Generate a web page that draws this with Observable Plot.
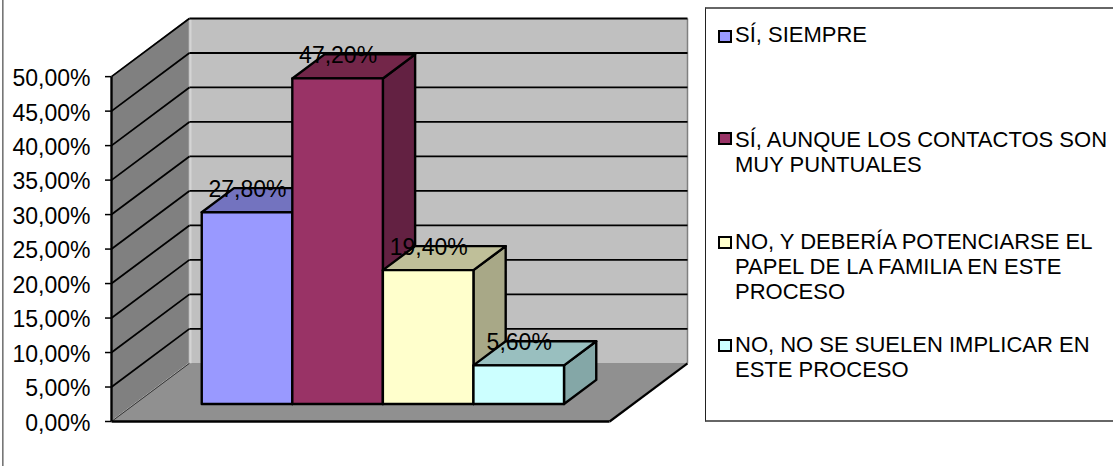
<!DOCTYPE html>
<html lang="es">
<head>
<meta charset="utf-8">
<script src="https://cdn.jsdelivr.net/npm/d3@7"></script>
<script src="https://cdn.jsdelivr.net/npm/@observablehq/plot@0.6"></script>
<style>
  html, body { margin: 0; padding: 0; background: #fff; }
  #chart { position: relative; width: 1113px; height: 466px; overflow: hidden; font-family: "Liberation Sans", Arial, sans-serif; color: #000; }
  #chart svg { position: absolute; left: 0; top: 0; }
  #edge { position: absolute; left: 2px; top: 0; bottom: 0; width: 1px; background: #777; border-right: 1px solid #aaa; }
  #legend { position: absolute; left: 705px; top: 7px; width: 420px; height: 415px; box-sizing: border-box; border: 1px solid #222; border-bottom: 2px solid #666; border-top: 2px solid #666; }
  .swatch { position: absolute; left: 12px; width: 14px; height: 13px; box-sizing: border-box; border: 2px solid #000; }
  .line { position: absolute; left: 29px; font-size: 22px; line-height: 24px; white-space: nowrap; }
</style>
</head>
<body>
<div id="chart">
  <div id="edge"></div>
  <div id="legend"></div>
</div>
<script>
// Survey responses, in percent
const categories = [
  ["SÍ, SIEMPRE"],
  ["SÍ, AUNQUE LOS CONTACTOS SON", "MUY PUNTUALES"],
  ["NO, Y DEBERÍA POTENCIARSE EL", "PAPEL DE LA FAMILIA EN ESTE", "PROCESO"],
  ["NO, NO SE SUELEN IMPLICAR EN", "ESTE PROCESO"]
];
const values = [27.8, 47.2, 19.4, 5.6];
const yTicks = d3.range(0, 51, 5);

// Face colours per series: front, top, side
const frontColors = ["#9999ff", "#993366", "#ffffcc", "#ccffff"];
const topColors = ["#7373bf", "#732649", "#bfbf99", "#99bfbf"];
const sideColors = ["#6565a9", "#632142", "#a8a887", "#84a7a7"];

// Oblique projection: one unit of depth shifts a point in x (category units) and y (percent)
const depthX = 0.86;
const depthY = 8.43;
const gap = 0.75;
const barDepth = [0.293, 0.707];
const categoryCount = values.length;
const floorWidth = categoryCount + 2 * gap;
const yMax = 50;

const project = (u, v, d) => ({x: u + depthX * d, y: v + depthY * d});

// A quadrilateral a-b-c-d becomes two rows of a ribbon-shaped area
function quad(id, fill, a, b, c, d) {
  return [
    {id, fill, x1: a.x, y1: a.y, x2: d.x, y2: d.y},
    {id, fill, x1: b.x, y1: b.y, x2: c.x, y2: c.y}
  ];
}

const walls = [
  ...quad("left", "#808080", project(0, 0, 0), project(0, yMax, 0), project(0, yMax, 1), project(0, 0, 1)),
  ...quad("back", "#c0c0c0", project(0, 0, 1), project(0, yMax, 1), project(floorWidth, yMax, 1), project(floorWidth, 0, 1)),
  ...quad("floor", "#909090", project(0, 0, 0), project(0, 0, 1), project(floorWidth, 0, 1), project(floorWidth, 0, 0))
];

const [df, db] = barDepth;
const barFaces = values.flatMap((v, i) => {
  const u0 = gap + i, u1 = u0 + 1;
  return [
    ...quad(`side${i}`, sideColors[i], project(u1, 0, df), project(u1, v, df), project(u1, v, db), project(u1, 0, db)),
    ...quad(`top${i}`, topColors[i], project(u0, v, df), project(u0, v, db), project(u1, v, db), project(u1, v, df)),
    ...quad(`front${i}`, frontColors[i], project(u0, 0, df), project(u0, v, df), project(u1, v, df), project(u1, 0, df))
  ];
});

const labels = values.map((v, i) => ({
  x: gap + i + 0.5 + depthX * df,
  y: v + depthY * db,
  text: v.toFixed(2).replace(".", ",") + "%"
}));

const gridValues = yTicks.filter((t) => t > 0);
const percent = (t) => t.toFixed(2).replace(".", ",") + "%";

const plot = Plot.plot({
  width: 1113,
  height: 466,
  marginLeft: 111,
  marginRight: 426,
  marginTop: 18,
  marginBottom: 45,
  style: {fontFamily: "Liberation Sans, Arial, sans-serif", background: "transparent", color: "#000"},
  x: {domain: [0, floorWidth + depthX], axis: null},
  y: {domain: [0, yMax + depthY], axis: null},
  color: {type: "identity"},
  marks: [
    Plot.area(walls, {x1: "x1", y1: "y1", x2: "x2", y2: "y2", z: "id", fill: "fill"}),
    // Soft edge where the back wall meets the left wall and the floor
    Plot.link([0], {x1: depthX + 0.012, x2: depthX + 0.012, y1: depthY, y2: yMax + depthY, stroke: "#d4d4d4", strokeWidth: 2}),
    Plot.link([0], {x1: floorWidth + depthX, x2: floorWidth + depthX, y1: depthY, y2: yMax + depthY, stroke: "#808080", strokeWidth: 1.5}),
    // Gridlines across both walls
    Plot.link(gridValues, {x1: 0, y1: (t) => t, x2: depthX, y2: (t) => t + depthY, stroke: "#000", strokeWidth: 1.8}),
    Plot.link(gridValues, {x1: depthX, y1: (t) => t + depthY, x2: floorWidth + depthX, y2: (t) => t + depthY, stroke: "#000", strokeWidth: 1.8}),
    // Thin edge between floor and left wall
    Plot.link([0], {x1: 0, y1: 0, x2: depthX, y2: depthY, stroke: "#333", strokeWidth: 1}),
    // Floor front and right edges
    Plot.link([0], {x1: 0, y1: 0, x2: floorWidth, y2: 0, stroke: "#000", strokeWidth: 2.4}),
    Plot.link([0], {x1: floorWidth, y1: 0, x2: floorWidth + depthX, y2: depthY, stroke: "#000", strokeWidth: 2.2}),
    // Tick marks and their labels are separate so the labels can sit a little lower
    Plot.axisY({ticks: yTicks, tickSize: 6, text: null, stroke: "#000", strokeWidth: 1.5}),
    Plot.axisY({ticks: yTicks, tickSize: 0, tickPadding: 21, tickFormat: percent, fontSize: 23, dy: 2}),
    Plot.link([0], {x1: 0, x2: 0, y1: 0, y2: yMax, stroke: "#000", strokeWidth: 2.4}),
    // Bars, drawn left to right so each one overlaps the previous
    Plot.area(barFaces, {x1: "x1", y1: "y1", x2: "x2", y2: "y2", z: "id", fill: "fill", stroke: "#000", strokeWidth: 2.4}),
    Plot.text(labels, {x: "x", y: "y", text: "text", fontSize: 23, fill: "#000", textAnchor: "middle", dy: 1})
  ]
});
document.getElementById("chart").prepend(plot);

// Legend box to the right of the plot
const legend = document.getElementById("legend");
const swatchTops = [21, 123, 227, 330];
const lineTops = [
  [14],
  [119, 144],
  [221, 246, 271],
  [324, 349]
];
categories.forEach((lines, i) => {
  const swatch = document.createElement("div");
  swatch.className = "swatch";
  swatch.style.top = swatchTops[i] + "px";
  swatch.style.background = frontColors[i];
  legend.append(swatch);
  lines.forEach((text, j) => {
    const line = document.createElement("div");
    line.className = "line";
    line.style.top = lineTops[i][j] + "px";
    line.textContent = text;
    legend.append(line);
  });
});
</script>
</body>
</html>
